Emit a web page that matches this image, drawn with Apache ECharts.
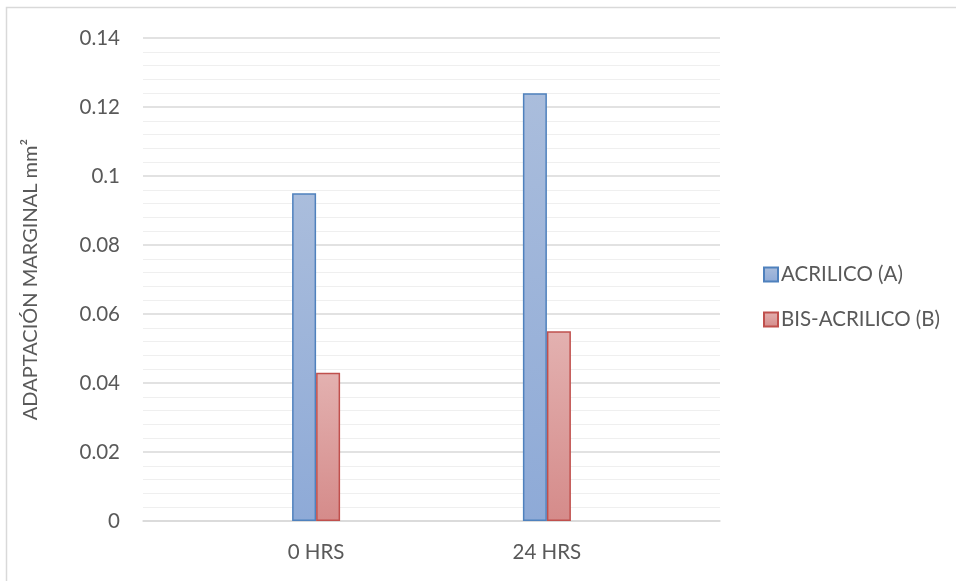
<!DOCTYPE html>
<html>
<head>
<meta charset="utf-8">
<script src="https://cdn.jsdelivr.net/npm/echarts@6/dist/echarts.min.js"></script>
<style>
  html, body { margin: 0; padding: 0; background: #ffffff; }
  #chart { width: 956px; height: 581px; }
</style>
</head>
<body>
<div id="chart"></div>
<script>
// Category slots: empty slots keep the two time points spaced as in the layout
const categories = ['', '0 HRS', '', '24 HRS', ''];
const acrilico = [null, 0.095, null, 0.124, null];
const bisAcrilico = [null, 0.043, null, 0.055, null];
const seriesNames = ['ACRILICO (A)', 'BIS-ACRILICO (B)'];
const yTicks = { min: 0, max: 0.14, interval: 0.02 };
const yTitle = 'ADAPTACIÓN MARGINAL mm²';

const FONT = 'Lato, "Open Sans", sans-serif';
const TEXT = '#595959';

function grad(top, bottom) {
  return new echarts.graphic.LinearGradient(0, 0, 0, 1, [
    { offset: 0, color: top },
    { offset: 1, color: bottom }
  ]);
}

const chart = echarts.init(document.getElementById('chart'), null, { renderer: 'canvas' });
chart.setOption({
  animation: false,
  backgroundColor: '#ffffff',
  textStyle: { fontFamily: FONT },
  graphic: [{
    type: 'rect',
    shape: { x: 6.5, y: 7.5, width: 1000, height: 1000 },
    style: { fill: 'none', stroke: '#d9d9d9', lineWidth: 1.5 },
    silent: true
  }],
  grid: { left: 143, right: 236, top: 38, bottom: 60, containLabel: false },
  legend: {
    orient: 'vertical',
    left: 758,
    top: 259,
    itemWidth: 14,
    itemHeight: 14,
    itemGap: 24,
    icon: 'rect',
    textStyle: { fontFamily: FONT, fontSize: 20.5, color: TEXT, padding: [0, 0, 0, -2] },
    data: seriesNames
  },
  xAxis: {
    type: 'category',
    data: categories,
    axisTick: { show: false },
    axisLine: { show: true, lineStyle: { color: '#d9d9d9', width: 1.5 } },
    axisLabel: { fontFamily: FONT, fontSize: 20.5, color: TEXT, margin: 21, interval: 0 },
    splitLine: { show: false }
  },
  yAxis: {
    type: 'value',
    min: yTicks.min,
    max: yTicks.max,
    interval: yTicks.interval,
    name: yTitle,
    nameLocation: 'middle',
    nameGap: 102,
    nameRotate: 90,
    nameTextStyle: { fontFamily: FONT, fontSize: 20, color: TEXT },
    axisLine: { show: false },
    axisTick: { show: false },
    axisLabel: {
      fontFamily: FONT, fontSize: 20.5, color: TEXT, margin: 23,
      formatter: v => String(+v.toFixed(2))
    },
    splitLine: { lineStyle: { color: '#d9d9d9', width: 1.5 } },
    minorTick: { show: false, splitNumber: 5 },
    minorSplitLine: { show: true, lineStyle: { color: '#efefef', width: 1.2 } }
  },
  series: [
    {
      name: seriesNames[0],
      type: 'bar',
      data: acrilico,
      barWidth: 24,
      barGap: '0%',
      itemStyle: {
        color: grad('#aabddc', '#8eaad7'),
        borderColor: '#4f81bd',
        borderWidth: 1.5
      }
    },
    {
      name: seriesNames[1],
      type: 'bar',
      data: bisAcrilico,
      barWidth: 24,
      barGap: '0%',
      itemStyle: {
        color: grad('#e3b1b0', '#d58b8a'),
        borderColor: '#c0504d',
        borderWidth: 1.5
      }
    }
  ]
});
</script>
</body>
</html>
